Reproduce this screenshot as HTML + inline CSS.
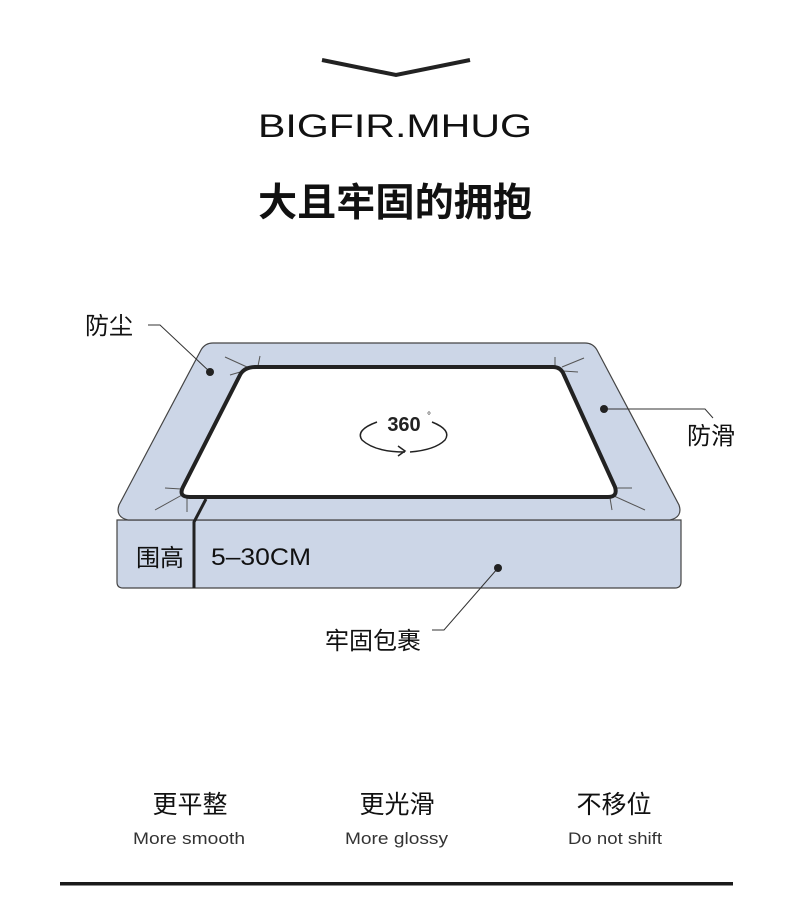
<!DOCTYPE html>
<html><head><meta charset="utf-8"><style>
html,body{margin:0;padding:0;background:#fff;}
body{width:790px;height:907px;overflow:hidden;position:relative;font-family:"Liberation Sans","Noto Sans CJK SC",sans-serif;}
svg{position:absolute;left:0;top:0;}
</style></head><body>
<svg width="790" height="907" viewBox="0 0 790 907" xmlns="http://www.w3.org/2000/svg">
<polyline points="322,60 396,75 470,60" fill="none" stroke="#222" stroke-width="4"/>
<text x="258" y="137" textLength="274" lengthAdjust="spacingAndGlyphs" font-family="Liberation Sans, sans-serif" font-size="32" font-weight="400" fill="#111">BIGFIR.MHUG</text>
<text x="258" y="216" textLength="274" lengthAdjust="spacingAndGlyphs" font-family="Liberation Sans, Noto Sans CJK SC, sans-serif" font-size="39" font-weight="700" fill="#111">大且牢固的拥抱</text>

<path d="M117,520 L681,520 L681,582 Q681,588 675,588 L123,588 Q117,588 117,582 Z" fill="#ccd6e7" stroke="#444" stroke-width="1.2"/>
<path d="M213,343 L585,343 Q593,343 597,350 L679,505 Q683,517 670,520 L128,520 Q115,517 119,505 L201,350 Q205,343 213,343 Z" fill="#ccd6e7" stroke="#444" stroke-width="1.2"/>
<polyline points="206,499 194,522 194,588" fill="none" stroke="#222" stroke-width="3"/>
<g stroke="#555" stroke-width="1" fill="none">
<line x1="247" y1="367" x2="225" y2="357"/><line x1="247" y1="370" x2="230" y2="375"/><line x1="258" y1="366" x2="260" y2="356"/>
<line x1="562" y1="367" x2="584" y2="358"/><line x1="563" y1="371" x2="578" y2="372"/><line x1="555" y1="366" x2="555" y2="357"/>
<line x1="181" y1="489" x2="165" y2="488"/><line x1="182" y1="495" x2="155" y2="510"/><line x1="187" y1="498" x2="187" y2="512"/>
<line x1="616" y1="488" x2="632" y2="488"/><line x1="614" y1="496" x2="645" y2="510"/><line x1="610" y1="498" x2="612" y2="510"/>
</g>
<path d="M256,367 L553,367 Q561,367 564,375 L615,487 Q618,497 608,497 L190,497 Q178,497 183,487 L240,375 Q244,367 256,367 Z" fill="#fff" stroke="#222" stroke-width="4" stroke-linejoin="round"/>
<text x="404" y="431" text-anchor="middle" font-family="Liberation Sans, sans-serif" font-size="20" font-weight="700" fill="#222">360</text>
<text x="427" y="419" font-family="Liberation Sans, sans-serif" font-size="10" fill="#222">°</text>
<path d="M377,422 Q355,430 362,440 Q375,452 405,452" fill="none" stroke="#222" stroke-width="1.5"/>
<path d="M432,422 Q452,430 445,440 Q435,450 410,452" fill="none" stroke="#222" stroke-width="1.5"/>
<polyline points="398,446 405,451 398,456" fill="none" stroke="#222" stroke-width="1.5"/>

<text x="136" y="566" font-size="24" fill="#111" font-family="Liberation Sans, Noto Sans CJK SC, sans-serif">围高</text>
<text x="211" y="565" textLength="100" lengthAdjust="spacingAndGlyphs" font-size="24" fill="#111" font-family="Liberation Sans, sans-serif">5–30CM</text>

<g stroke="#333" stroke-width="1" fill="none">
<polyline points="148,325 160,325 210,372"/>
<polyline points="604,409 705,409 713,418"/>
<polyline points="498,568 444,630 432,630"/>
</g>
<g fill="#222"><circle cx="210" cy="372" r="4"/><circle cx="604" cy="409" r="4"/><circle cx="498" cy="568" r="4"/></g>
<g font-family="Liberation Sans, Noto Sans CJK SC, sans-serif" font-size="24" fill="#111">
<text x="85" y="334">防尘</text>
<text x="687" y="444">防滑</text>
<text x="325" y="649">牢固包裹</text>
</g>

<g font-family="Liberation Sans, Noto Sans CJK SC, sans-serif" text-anchor="middle" fill="#111">
<text x="190" y="813" font-size="25">更平整</text>
<text x="397" y="813" font-size="25">更光滑</text>
<text x="614" y="813" font-size="25">不移位</text>
</g>
<g font-family="Liberation Sans, sans-serif" fill="#333" font-size="17">
<text x="133" y="844" textLength="112" lengthAdjust="spacingAndGlyphs">More smooth</text>
<text x="345" y="844" textLength="103" lengthAdjust="spacingAndGlyphs">More glossy</text>
<text x="568" y="844" textLength="94" lengthAdjust="spacingAndGlyphs">Do not shift</text>
</g>
<rect x="60" y="882" width="673" height="3.5" fill="#1a1a1a"/>
</svg>
</body></html>
